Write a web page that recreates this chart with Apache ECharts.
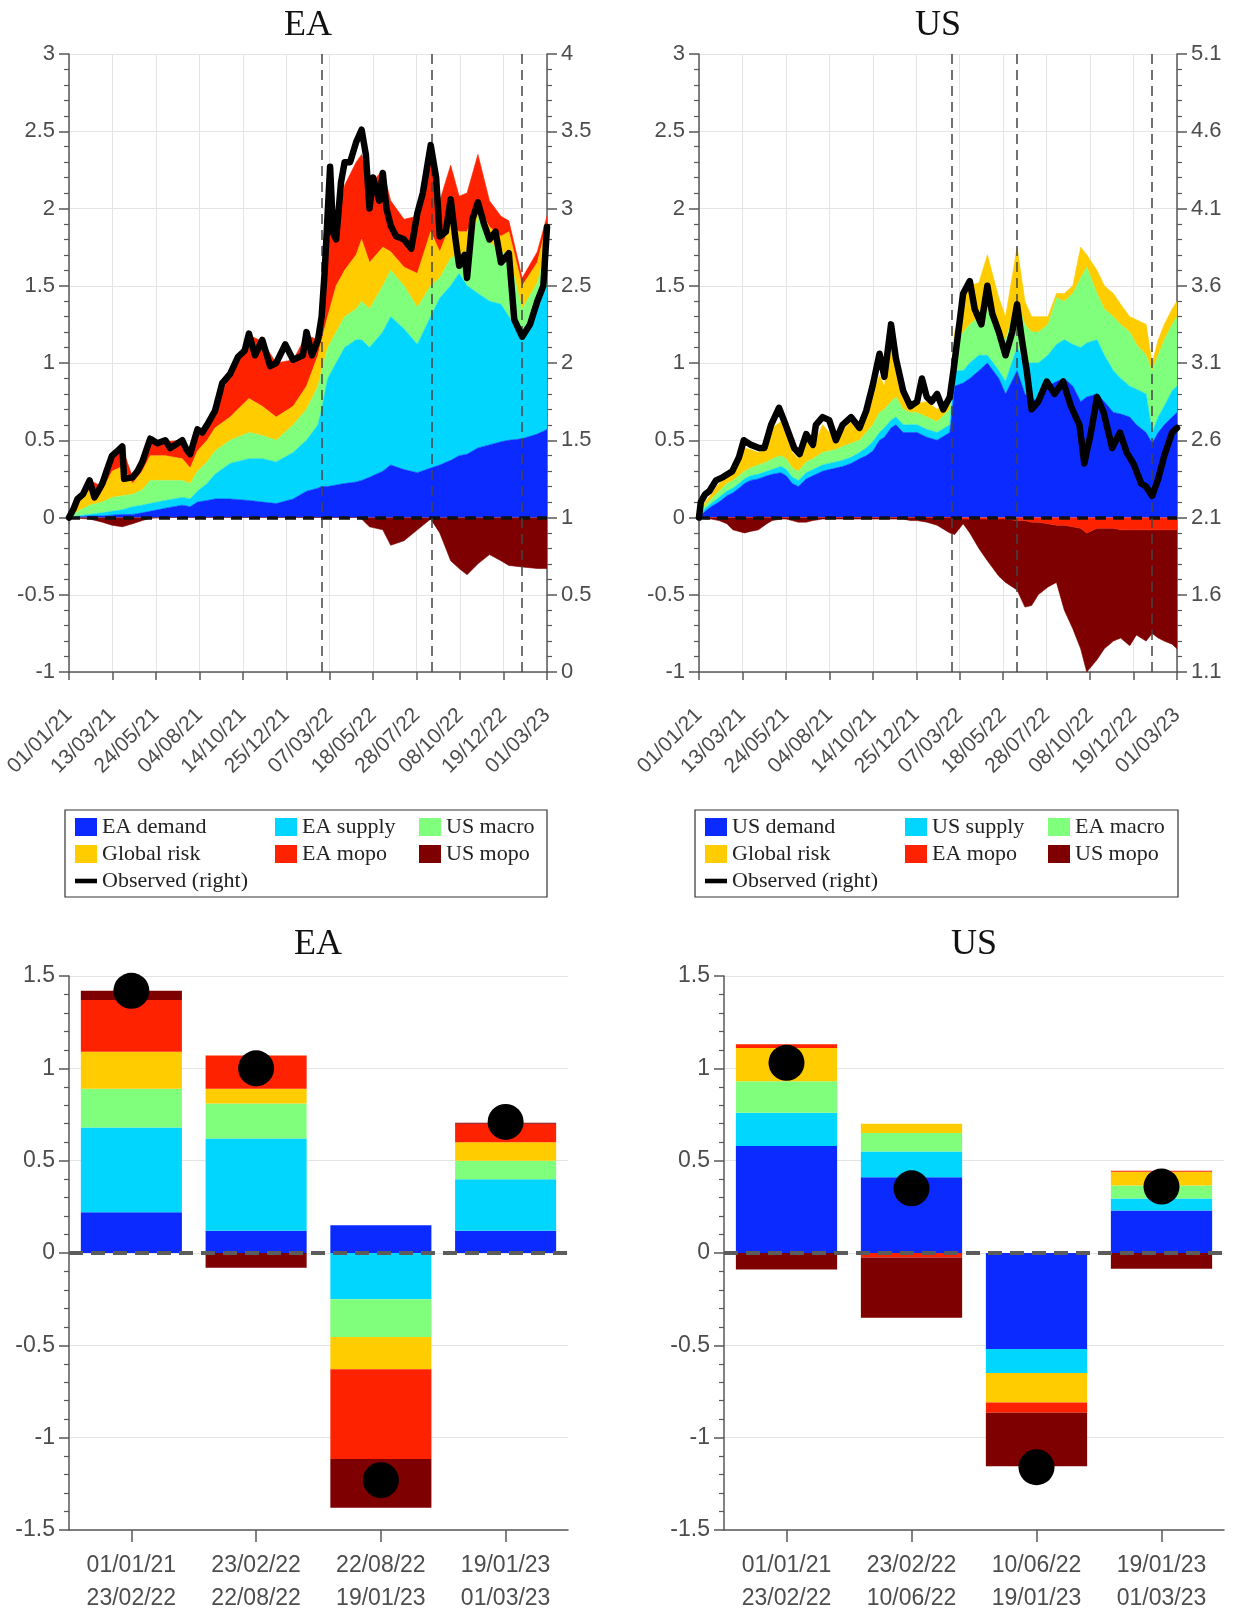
<!DOCTYPE html>
<html>
<head>
<meta charset="utf-8">
<script src="https://cdn.jsdelivr.net/npm/echarts@6/dist/echarts.min.js"></script>
<style>html,body{margin:0;padding:0;background:#fff}#c{width:1237px;height:1611px}</style>
</head>
<body>
<div id="c"></div>
<script>
// ---------------- DATA ----------------
// x tick labels of the two time-series panels (dd/mm/yy)
const topTickLabels = ['01/01/21','13/03/21','24/05/21','04/08/21','14/10/21','25/12/21','07/03/22','18/05/22','28/07/22','08/10/22','19/12/22','01/03/23'];
// dates of the vertical dashed lines
const eaBreaks = ['23/02/22','22/08/22','19/01/23'];
const usBreaks = ['23/02/22','10/06/22','19/01/23'];

// EA panel: sample dates (days since 01/01/21) and contributions (left axis)
const eaDays     = [0,14,34,55,71,88,105,121,134,159,187,200,212,228,241,266,297,319,342,370,392,411,417,427,441,455,474,483,496,518,531,553,575,597,612,630,644,657,675,694,713,726,748,773,789];
const eaDemand   = [0,.005,.01,.01,.015,.02,.02,.03,.04,.06,.08,.07,.10,.11,.12,.12,.11,.10,.09,.12,.17,.19,.20,.20,.21,.22,.23,.24,.26,.30,.34,.31,.29,.32,.34,.37,.40,.41,.45,.47,.49,.50,.51,.54,.57];
const eaSupply   = [0,.005,.01,.02,.025,.03,.05,.05,.05,.05,.05,.05,.07,.11,.16,.23,.27,.28,.27,.30,.33,.41,.50,.70,.79,.88,.92,.91,.84,.90,.96,.91,.83,.98,1.08,1.13,1.18,1.09,1.00,.93,.89,.80,.67,.81,.93];
const eaUSmacro  = [0,.03,.06,.07,.09,.09,.08,.10,.15,.13,.11,.10,.13,.14,.15,.15,.17,.15,.14,.18,.20,.25,.25,.20,.20,.20,.20,.25,.25,.30,.30,.28,.24,.20,.13,.18,.12,.15,.50,.38,.34,.40,.17,.17,.25];
const eaRisk     = [0,.05,.10,.07,.17,.19,.07,.12,.16,.16,.14,.10,.13,.14,.15,.15,.22,.19,.15,.12,.15,.20,.20,.20,.30,.30,.35,.40,.30,.25,.12,.12,.22,.35,.17,.22,.15,.20,.07,.10,.10,.15,.15,.13,.15];
const eaEAmopo   = [0,.02,.06,.03,.08,.12,.04,.06,.10,.09,.12,.09,.13,.10,.11,.28,.41,.42,.35,.30,.33,.10,.20,.65,.35,.55,.60,.55,.50,.50,.33,.31,.37,.53,.33,.38,.23,.25,.33,.17,.13,.07,.05,.07,.05];
const eaUSmopo   = [0,-.005,-.01,-.03,-.05,-.06,-.04,-.02,-.005,0,0,0,0,0,0,0,0,0,0,0,0,0,0,0,0,0,0,-.01,-.06,-.08,-.18,-.15,-.08,-.01,-.10,-.28,-.33,-.37,-.30,-.24,-.28,-.31,-.32,-.33,-.33];
// EA observed (right axis)
const eaObsDays  = [0,8,14,23,34,42,48,55,62,71,80,88,91,105,113,121,134,146,159,167,175,187,194,200,212,220,228,241,253,266,279,290,297,307,319,332,342,357,370,386,392,401,411,417,422,427,431,436,441,449,455,464,474,483,490,496,502,512,518,524,531,540,553,565,575,584,597,606,612,622,630,638,644,653,657,666,675,685,694,704,713,726,735,748,761,773,783,789];
const eaObserved = [1,1.06,1.12,1.15,1.24,1.13,1.17,1.22,1.30,1.40,1.43,1.46,1.25,1.26,1.30,1.36,1.51,1.48,1.50,1.45,1.47,1.50,1.44,1.41,1.57,1.55,1.60,1.69,1.87,1.93,2.04,2.08,2.19,2.05,2.15,1.98,2.00,2.12,2.02,2.05,2.20,2.05,2.15,2.30,2.59,2.97,3.27,2.84,2.80,3.17,3.30,3.30,3.43,3.51,3.35,3.00,3.20,3.05,3.23,3.00,2.89,2.82,2.80,2.74,2.97,3.10,3.41,3.20,2.82,2.85,3.06,2.80,2.63,2.70,2.55,2.93,3.04,2.90,2.80,2.85,2.65,2.71,2.28,2.17,2.25,2.40,2.50,2.88];

// US panel
const usDays     = [0,10,20,33,46,56,66,75,85,98,112,121,135,144,154,164,177,188,204,215,226,237,251,265,276,287,298,306,317,325,337,349,360,376,393,414,422,436,447,462,476,495,506,525,538,549,560,576,590,603,617,630,640,657,669,684,696,711,722,738,748,758,768,781,789];
const usDemand   = [0,.04,.07,.10,.14,.16,.19,.22,.24,.25,.27,.28,.29,.27,.22,.20,.25,.27,.30,.31,.32,.33,.35,.38,.40,.43,.50,.52,.58,.60,.55,.55,.55,.52,.50,.55,.85,.87,.90,.95,1.00,.90,.80,.95,.80,.77,.75,.85,.88,.90,.85,.75,.78,.80,.75,.68,.67,.65,.60,.55,.48,.55,.60,.65,.68];
const usSupply   = [0,.02,.02,.03,.03,.03,.03,.03,.03,.03,.03,.03,.04,.04,.04,.04,.04,.04,.04,.04,.04,.04,.04,.04,.05,.06,.05,.06,.05,.05,.05,.05,.05,.05,.05,.05,.10,.08,.10,.10,.05,.05,.08,.15,.20,.23,.25,.20,.24,.25,.27,.35,.35,.35,.30,.27,.23,.20,.23,.25,.07,.10,.12,.17,.17];
const usEAmacro  = [0,.02,.03,.04,.05,.05,.05,.05,.05,.06,.06,.07,.07,.07,.06,.06,.07,.07,.08,.08,.08,.09,.09,.08,.10,.11,.13,.12,.12,.13,.10,.08,.08,.08,.07,.10,.15,.25,.25,.25,.30,.25,.27,.30,.25,.20,.20,.20,.30,.25,.33,.45,.49,.30,.30,.35,.35,.35,.29,.25,.40,.40,.43,.43,.45];
const usRisk     = [0,.02,.03,.05,.05,.06,.11,.15,.12,.08,.14,.20,.22,.17,.10,.08,.14,.08,.18,.12,.04,.10,.14,.06,.11,.20,.24,.15,.40,.17,.10,.04,.06,.10,.08,.08,.10,.22,.25,.22,.35,.22,.15,.35,.15,.10,.10,.05,.03,.05,.05,.20,.08,.15,.15,.15,.13,.10,.16,.20,.05,.10,.10,.10,.10];
const usEAmopo   = [0,0,0,0,0,0,0,0,0,0,0,0,0,0,0,0,0,0,0,0,0,0,0,0,0,0,0,0,0,0,0,0,0,0,0,0,0,-.01,-.01,-.01,-.01,-.01,-.01,-.02,-.02,-.03,-.03,-.04,-.05,-.05,-.06,-.07,-.10,-.07,-.07,-.07,-.08,-.08,-.08,-.08,-.08,-.08,-.08,-.08,-.08];
const usUSmopo   = [0,-.01,-.01,-.02,-.04,-.08,-.09,-.10,-.09,-.08,-.04,-.02,-.01,-.01,-.02,-.03,-.03,-.02,-.01,-.01,-.01,-.01,-.01,-.01,-.01,-.01,-.01,-.01,-.01,-.01,-.01,-.02,-.02,-.03,-.05,-.10,-.11,-.03,-.09,-.19,-.27,-.37,-.41,-.45,-.56,-.54,-.47,-.41,-.37,-.55,-.66,-.78,-.90,-.85,-.78,-.73,-.70,-.75,-.68,-.72,-.67,-.70,-.72,-.74,-.77];
const usObsDays  = [0,3,10,17,28,39,55,66,74,86,99,108,119,132,143,157,166,177,188,193,204,215,226,237,251,265,276,287,298,306,317,325,337,349,360,368,376,384,393,403,414,420,428,436,447,455,466,476,484,495,506,517,525,533,541,549,560,574,587,601,614,628,636,647,657,668,682,695,706,717,730,738,748,758,768,781,789];
const usObserved = [2.1,2.2,2.25,2.27,2.34,2.36,2.4,2.49,2.6,2.57,2.55,2.55,2.7,2.81,2.7,2.55,2.51,2.64,2.57,2.7,2.75,2.73,2.6,2.7,2.75,2.68,2.79,2.96,3.16,3.01,3.35,3.13,2.92,2.82,2.85,3.0,2.88,2.85,2.9,2.8,2.88,3.05,3.3,3.55,3.63,3.45,3.35,3.6,3.42,3.3,3.15,3.3,3.48,3.25,3.05,2.8,2.85,2.98,2.9,2.98,2.82,2.7,2.45,2.65,2.88,2.78,2.55,2.65,2.52,2.45,2.32,2.3,2.24,2.35,2.5,2.65,2.68];

// Bar panels: periods and contributions
const eaPeriodStart = ['01/01/21','23/02/22','22/08/22','19/01/23'];
const eaPeriodEnd   = ['23/02/22','22/08/22','19/01/23','01/03/23'];
const eaBarDemand = [0.22, 0.12, 0.15, 0.12];
const eaBarSupply = [0.46, 0.50, -0.25, 0.28];
const eaBarUSmacro = [0.21, 0.19, -0.205, 0.10];
const eaBarRisk   = [0.20, 0.08, -0.175, 0.10];
const eaBarEAmopo = [0.28, 0.18, -0.485, 0.10];
const eaBarUSmopo = [0.05, -0.08, -0.265, 0.005];
const eaBarObserved = [1.42, 1.00, -1.23, 0.71];

const usPeriodStart = ['01/01/21','23/02/22','10/06/22','19/01/23'];
const usPeriodEnd   = ['23/02/22','10/06/22','19/01/23','01/03/23'];
const usBarDemand = [0.58, 0.41, -0.52, 0.23];
const usBarSupply = [0.18, 0.14, -0.13, 0.065];
const usBarEAmacro = [0.17, 0.10, 0, 0.07];
const usBarRisk   = [0.18, 0.05, -0.16, 0.075];
const usBarEAmopo = [0.02, -0.025, -0.055, 0.005];
const usBarUSmopo = [-0.09, -0.325, -0.29, -0.085];
const usBarObserved = [1.03, 0.35, -1.16, 0.36];

// ---------------- STYLE ----------------
const BLUE='#0A2AFF', CYAN='#00D6FF', GREEN='#80FF7C', YELLOW='#FFCC00', RED='#FF2200', DRED='#7F0000';
const AX='#585858', LBL='#4d4d4d', GRID='#e4e4e4';
const SANS='"Liberation Sans", Arial, sans-serif';
const SERIF='"Liberation Serif", "Times New Roman", serif';

const DAYMS = 86400000;
const DAY0 = Date.UTC(2021,0,1);
function dayOf(s){ const p=s.split('/').map(Number); return Math.round((Date.UTC(2000+p[2],p[1]-1,p[0])-DAY0)/DAYMS); }
function ts(d){ return DAY0 + d*DAYMS; }
const xMax = dayOf(topTickLabels[topTickLabels.length-1]);
const xStep = xMax/(topTickLabels.length-1);

// hidden time axis that carries the series
function timeAxis(gi){
  return {type:'time', gridIndex:gi, position:'bottom', min:ts(0), max:ts(xMax), show:false};
}
// visible axis that carries ticks, labels and grid lines (same range, in days)
function topXAxis(gi){
  return {type:'value', gridIndex:gi, position:'bottom', min:0, max:xMax, interval:xStep,
    axisLine:{show:true,onZero:false,lineStyle:{color:AX,width:1.5}},
    axisTick:{show:true,inside:false,length:8,lineStyle:{color:AX,width:1.5}},
    splitLine:{show:true,lineStyle:{color:GRID,width:1}},
    axisLabel:{rotate:45,margin:40,fontSize:21,color:LBL,fontFamily:SANS,
      formatter:function(v){return topTickLabels[Math.round(v/xStep)];}}};
}
function yAxisDef(gi,pos,min,max,split,fs){
  return {type:'value', gridIndex:gi, position:pos, min:min, max:max, interval:0.5,
    axisLine:{show:true,onZero:false,lineStyle:{color:AX,width:1.5}},
    axisTick:{show:true,inside:false,length:10,lineStyle:{color:AX,width:1.5}},
    minorTick:{show:true,splitNumber:5,length:5,lineStyle:{color:AX,width:1.2}},
    splitLine:{show:split,lineStyle:{color:GRID,width:1}},
    minorSplitLine:{show:false},
    axisLabel:{fontSize:fs,color:LBL,fontFamily:SANS,margin:14}};
}
function barXAxis(gi,starts,ends){
  return {type:'category', gridIndex:gi, position:'bottom', data:starts.map(function(s,i){return s+'\n'+ends[i];}),
    axisLine:{show:true,onZero:false,lineStyle:{color:AX,width:1.5}},
    axisTick:{show:true,inside:false,alignWithLabel:true,length:12,lineStyle:{color:AX,width:1.5}},
    splitLine:{show:false},
    axisLabel:{fontSize:23,lineHeight:33,color:LBL,fontFamily:SANS,margin:19}};
}

const series=[];
function addArea(name,color,days,vals,xi,yi,stack,extra){
  series.push(Object.assign({type:'line',name:name,xAxisIndex:xi,yAxisIndex:yi,stack:stack,
    data:days.map(function(d,i){return [ts(d),vals[i]];}),symbol:'none',showSymbol:false,
    lineStyle:{width:0.6,color:color},itemStyle:{color:color},areaStyle:{color:color,opacity:1},z:2,silent:true},extra||{}));
}
const zeroLine = {silent:true,symbol:['none','none'],label:{show:false},z:5,
  lineStyle:{color:'#111',width:3.5,type:[11,7]},data:[{yAxis:0}]};
function breakLines(list){
  return {silent:true,symbol:['none','none'],label:{show:false},z:5,
    lineStyle:{color:'#444',width:1.5,type:[10,6]},data:list.map(function(s){return {xAxis:ts(dayOf(s))};})};
}
function addObserved(days,vals,xi,yi,breaks){
  series.push({type:'line',name:'Observed (right)',xAxisIndex:xi,yAxisIndex:yi,data:days.map(function(d,i){return [ts(d),vals[i]];}),
    symbol:'none',showSymbol:false,lineStyle:{width:6.5,color:'#000',join:'round',cap:'round'},itemStyle:{color:'#000'},z:6,silent:true,
    markLine:breakLines(breaks)});
}

// EA top (positive contributions in one stack, negative ones in another)
addArea('EA demand',BLUE,eaDays,eaDemand,0,0,'eaPos');
addArea('EA supply',CYAN,eaDays,eaSupply,0,0,'eaPos');
addArea('US macro',GREEN,eaDays,eaUSmacro,0,0,'eaPos');
addArea('Global risk',YELLOW,eaDays,eaRisk,0,0,'eaPos');
addArea('EA mopo',RED,eaDays,eaEAmopo,0,0,'eaPos');
addArea('US mopo',DRED,eaDays,eaUSmopo,0,0,'eaNeg',{markLine:zeroLine});
addObserved(eaObsDays,eaObserved,0,1,eaBreaks);
// US top
addArea('US demand',BLUE,usDays,usDemand,2,2,'usPos');
addArea('US supply',CYAN,usDays,usSupply,2,2,'usPos');
addArea('EA macro',GREEN,usDays,usEAmacro,2,2,'usPos');
addArea('Global risk',YELLOW,usDays,usRisk,2,2,'usPos');
addArea('EA mopo',RED,usDays,usEAmopo,2,2,'usNeg');
addArea('US mopo',DRED,usDays,usUSmopo,2,2,'usNeg',{markLine:zeroLine});
addObserved(usObsDays,usObserved,2,3,usBreaks);

// bars
function addBars(names,colors,arrays,xi,yi,stack){
  names.forEach(function(n,k){
    series.push({type:'bar',name:n,xAxisIndex:xi,yAxisIndex:yi,stack:stack,data:arrays[k],barWidth:'81%',
      itemStyle:{color:colors[k]},z:2,silent:true});
  });
}
const barColors=[BLUE,CYAN,GREEN,YELLOW,RED,DRED];
addBars(['EA demand','EA supply','US macro','Global risk','EA mopo','US mopo'],barColors,
  [eaBarDemand,eaBarSupply,eaBarUSmacro,eaBarRisk,eaBarEAmopo,eaBarUSmopo],4,4,'eab');
addBars(['US demand','US supply','EA macro','Global risk','EA mopo','US mopo'],barColors,
  [usBarDemand,usBarSupply,usBarEAmacro,usBarRisk,usBarEAmopo,usBarUSmopo],5,5,'usb');
const grayZero={silent:true,symbol:['none','none'],label:{show:false},z:5,
  lineStyle:{color:'#5c5c5c',width:4,type:[14,8]},data:[{yAxis:0}]};
series.push({type:'scatter',name:'Observed change EA',xAxisIndex:4,yAxisIndex:4,data:eaBarObserved,symbol:'circle',symbolSize:36,
  itemStyle:{color:'#000',opacity:1},z:10,silent:true,markLine:grayZero});
series.push({type:'scatter',name:'Observed change US',xAxisIndex:5,yAxisIndex:5,data:usBarObserved,symbol:'circle',symbolSize:36,
  itemStyle:{color:'#000',opacity:1},z:10,silent:true,markLine:grayZero});

function legendCol(names,left,top){
  return {orient:'vertical',left:left,top:top,padding:0,itemGap:5,itemWidth:22,itemHeight:18,icon:'rect',selectedMode:false,
    itemStyle:{borderWidth:0},
    textStyle:{fontFamily:SERIF,fontSize:22,color:'#222',lineHeight:20},
    data:names.map(function(n){return n==='Observed (right)'?{name:n,icon:'path://M0,0H24V5H0Z'}:{name:n};})};
}
function titleAt(text,x,y){
  return {text:text,left:x,top:y,textAlign:'center',padding:0,textStyle:{fontFamily:SERIF,fontSize:36,fontWeight:'normal',color:'#111'}};
}

const option={
  animation:false,
  backgroundColor:'#fff',
  title:[titleAt('EA',308,8),titleAt('US',938,8),titleAt('EA',318,927),titleAt('US',974,927)],
  grid:[
    {left:69,top:54,width:478,height:618,outerBoundsMode:'none'},
    {left:699,top:54,width:478,height:618,outerBoundsMode:'none'},
    {left:69,top:976,width:499,height:554,outerBoundsMode:'none'},
    {left:724,top:976,width:500,height:554,outerBoundsMode:'none'}
  ],
  xAxis:[timeAxis(0),topXAxis(0),timeAxis(1),topXAxis(1),
         barXAxis(2,eaPeriodStart,eaPeriodEnd),barXAxis(3,usPeriodStart,usPeriodEnd)],
  yAxis:[
    yAxisDef(0,'left',-1,3,true,22),
    yAxisDef(0,'right',0,4,false,22),
    yAxisDef(1,'left',-1,3,true,22),
    yAxisDef(1,'right',1.1,5.1,false,22),
    yAxisDef(2,'left',-1.5,1.5,true,23),
    yAxisDef(3,'left',-1.5,1.5,true,23)
  ],
  legend:[
    legendCol(['EA demand','Global risk','Observed (right)'],75,816),
    legendCol(['EA supply','EA mopo'],275,816),
    legendCol(['US macro','US mopo'],419,816),
    legendCol(['US demand','Global risk','Observed (right)'],705,816),
    legendCol(['US supply','EA mopo'],905,816),
    legendCol(['EA macro','US mopo'],1048,816)
  ],
  graphic:[
    {type:'rect',silent:true,z:100,shape:{x:65,y:810,width:482,height:87},style:{fill:'none',stroke:'#333',lineWidth:1.2}},
    {type:'rect',silent:true,z:100,shape:{x:695,y:810,width:483,height:87},style:{fill:'none',stroke:'#333',lineWidth:1.2}}
  ],
  series:series
};
const chart=echarts.init(document.getElementById('c'),null,{renderer:'canvas'});
chart.setOption(option);
</script>
</body>
</html>
